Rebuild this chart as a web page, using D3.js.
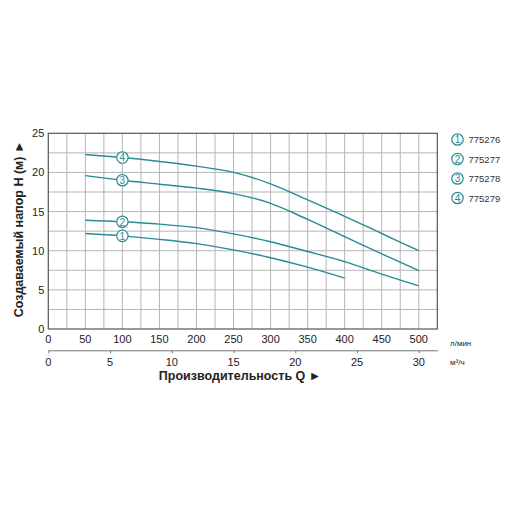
<!DOCTYPE html>
<html>
<head>
<meta charset="utf-8">
<script src="https://cdn.jsdelivr.net/npm/d3@7"></script>
<style>
  body { margin: 0; background: #fff; }
  svg text { font-family: "Liberation Sans", Arial, sans-serif; }
</style>
</head>
<body>
<svg id="chart" width="512" height="512"></svg>
<script>
// flow points (l/min) and head readings (m) for each pump
var flow = [50, 100, 150, 200, 250, 300, 350, 400, 450, 500];
var head1 = [12.2, 11.9, 11.45, 10.9, 10.1, 9.1, 7.9, 6.5];
var head2 = [13.9, 13.7, 13.4, 12.95, 12.15, 11.15, 9.9, 8.6, 7.0, 5.5];
var head3 = [19.6, 19.0, 18.5, 18.0, 17.3, 16.05, 14.0, 11.8, 9.6, 7.45];
var head4 = [22.3, 21.9, 21.4, 20.8, 20.0, 18.55, 16.5, 14.4, 12.2, 10.0];
var models = ["775276", "775277", "775278", "775279"];
var lpmTicks = [0, 50, 100, 150, 200, 250, 300, 350, 400, 450, 500];
var m3hTicks = [0, 5, 10, 15, 20, 25, 30];
var headTicks = [0, 5, 10, 15, 20, 25];

var teal = "#2a8a94";
var svg = d3.select("#chart");
var pLeft = 48.3, pRight = 437.3, pTop = 133.3, pBottom = 329;

var x = d3.scaleLinear().domain([0, 525]).range([pLeft, pRight]);
var xm = d3.scaleLinear().domain([0, 31.5]).range([pLeft, pRight]);
var y = d3.scaleLinear().domain([0, 25]).range([pBottom, pTop]);

// grid
var g = svg.append("g");
g.selectAll("line.v").data(d3.range(25, 525, 25)).join("line")
  .attr("class", "v")
  .attr("x1", d => x(d)).attr("x2", d => x(d))
  .attr("y1", pTop).attr("y2", pBottom)
  .attr("stroke", "#b5b5b5").attr("stroke-width", 1);
g.selectAll("line.h").data(d3.range(2.5, 25, 2.5)).join("line")
  .attr("class", "h")
  .attr("x1", pLeft).attr("x2", pRight)
  .attr("y1", d => y(d)).attr("y2", d => y(d))
  .attr("stroke", "#b5b5b5").attr("stroke-width", 1);
g.append("rect").attr("x", pLeft).attr("y", pTop)
  .attr("width", pRight - pLeft).attr("height", pBottom - pTop)
  .attr("fill", "none").attr("stroke", "#555").attr("stroke-width", 1.2);

// tick labels
svg.selectAll("text.yt").data(headTicks).join("text")
  .attr("class", "yt")
  .attr("x", pLeft - 4).attr("y", d => y(d) + 4)
  .attr("text-anchor", "end").attr("font-size", 11).attr("fill", "#222")
  .text(d => d);
svg.selectAll("text.xt").data(lpmTicks).join("text")
  .attr("class", "xt")
  .attr("x", d => x(d)).attr("y", 343)
  .attr("text-anchor", "middle").attr("font-size", 11).attr("fill", "#222")
  .text(d => d);
svg.append("text").attr("x", 450).attr("y", 346)
  .attr("font-size", 8).attr("fill", "#222").text("л/мин");

// second axis in m3/h
var ax2 = svg.append("g").attr("transform", "translate(0,350.3)")
  .call(d3.axisBottom(xm).tickValues(m3hTicks).tickSize(3).tickSizeOuter(0).tickFormat(""));
ax2.select(".domain").attr("stroke", "#777");
ax2.selectAll(".tick line").attr("stroke", "#777");
svg.selectAll("text.mt").data(m3hTicks).join("text")
  .attr("class", "mt")
  .attr("x", d => xm(d)).attr("y", 366)
  .attr("text-anchor", "middle").attr("font-size", 11).attr("fill", "#222")
  .text(d => d);
svg.append("text").attr("x", 450).attr("y", 365)
  .attr("font-size", 8).attr("fill", "#222").text("м³/ч");

// titles
svg.append("text").attr("x", 240).attr("y", 380)
  .attr("text-anchor", "middle").attr("font-size", 12.5).attr("font-weight", "bold")
  .attr("fill", "#222").text("Производительность Q ►");
svg.append("text").attr("transform", "translate(23,229) rotate(-90)")
  .attr("text-anchor", "middle").attr("font-size", 12.5).attr("font-weight", "bold")
  .attr("fill", "#222").text("Создаваемый напор H (м) ►");

// curves
var series = [head1, head2, head3, head4];
var line = d3.line().x((d, i) => x(flow[i])).y(d => y(d)).curve(d3.curveCatmullRom.alpha(0.5));
svg.selectAll("path.curve").data(series).join("path")
  .attr("class", "curve")
  .attr("d", d => line(d)).attr("fill", "none")
  .attr("stroke", teal).attr("stroke-width", 1.4);

// markers at 100 l/min
var marks = svg.selectAll("g.mark").data(series).join("g")
  .attr("class", "mark")
  .attr("transform", d => "translate(" + x(flow[1]) + "," + y(d[1]) + ")");
marks.append("circle").attr("r", 5.7).attr("fill", "#fff")
  .attr("stroke", teal).attr("stroke-width", 1.2);
marks.append("text").attr("y", 3.8).attr("text-anchor", "middle")
  .attr("font-size", 10).attr("fill", teal).text((d, i) => i + 1);

// legend
var leg = svg.selectAll("g.leg").data(models).join("g")
  .attr("class", "leg")
  .attr("transform", (d, i) => "translate(457.5," + (139.5 + i * 19.5) + ")");
leg.append("circle").attr("r", 5.7).attr("fill", "#fff")
  .attr("stroke", teal).attr("stroke-width", 1.2);
leg.append("text").attr("y", 3.8).attr("text-anchor", "middle")
  .attr("font-size", 10).attr("fill", teal).text((d, i) => i + 1);
leg.append("text").attr("x", 11).attr("y", 3.5)
  .attr("font-size", 9.5).attr("fill", "#333").text(d => d);
</script>
</body>
</html>
